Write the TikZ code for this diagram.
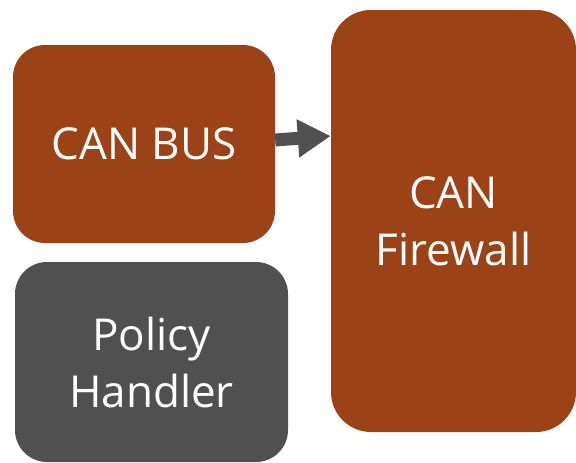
\documentclass[tikz,border=0pt]{standalone}
\usepackage{fontspec}
\setmainfont{Open Sans}
\usetikzlibrary{arrows.meta,calc}
\definecolor{rust}{HTML}{9B4216}
\definecolor{slate}{HTML}{505050}
\tikzset{
  block/.style={rectangle, fill=#1, text=white, align=center, inner sep=0pt,
    font=\fontsize{44}{57}\selectfont},
  link/.style={draw=slate, line width=13pt,
    -{Triangle[length=33pt,width=36pt]}}
}
\begin{document}
\begin{tikzpicture}[x=1pt,y=-1pt]
  \useasboundingbox (0,0) rectangle (576,463);
  % the three blocks
  \node[block=rust, rounded corners=32pt, minimum width=262pt, minimum height=198pt]
    (bus) at (144,144) {CAN BUS};
  \node[block=rust, rounded corners=40pt, minimum width=245pt, minimum height=422pt]
    (fw) at (453.5,221) {CAN\\Firewall};
  \node[block=slate, rounded corners=32pt, minimum width=273pt, minimum height=200pt]
    (ph) at (151.5,362) {Policy\\Handler};
  % connector: CAN BUS feeds the firewall
  \draw[link] ($(bus.east)+(0,-4)$) -- ($(fw.west)+(0,-85)$);
\end{tikzpicture}
\end{document}
